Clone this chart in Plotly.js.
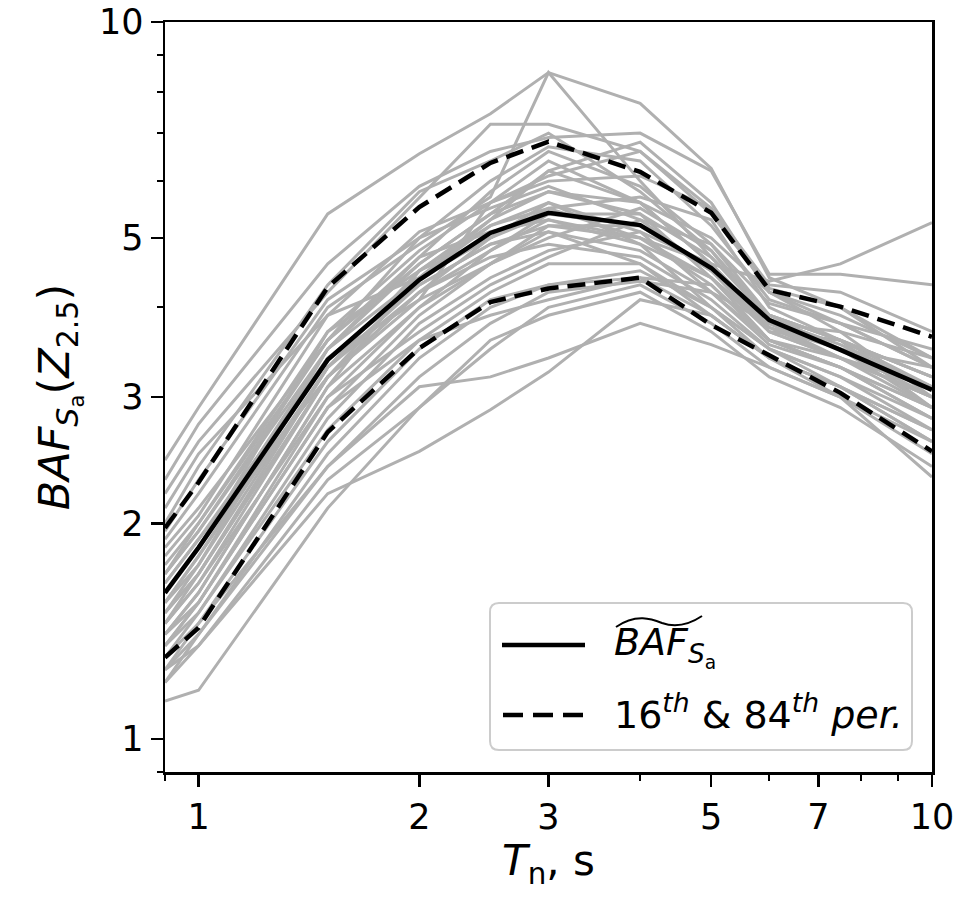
<!DOCTYPE html>
<html>
<head>
<meta charset="utf-8">
<script src="https://cdn.plot.ly/plotly-3.0.1.min.js"></script>
<style>html,body{margin:0;padding:0;background:#fff;}#chart{width:961px;height:898px;}</style>
</head>
<body>
<div id="chart"></div>
<script>
// Periods (s)
const periods = [0.9, 1, 1.5, 2, 2.5, 3, 4, 5, 6, 7.5, 10];

// Median and percentiles
const medianBAF = [1.60, 1.85, 3.38, 4.37, 5.08, 5.42, 5.21, 4.54, 3.84, 3.49, 3.07];
const p84BAF    = [1.97, 2.28, 4.27, 5.52, 6.36, 6.81, 6.18, 5.42, 4.23, 4.01, 3.64];
const p16BAF    = [1.30, 1.43, 2.68, 3.51, 4.07, 4.25, 4.40, 3.78, 3.43, 3.04, 2.52];

// Individual records (gray)
const rec01 = [2.45, 2.90, 5.40, 6.55, 7.45, 8.50, 7.70, 6.25, 4.40, 4.00, 3.40];
const rec02 = [1.90, 2.20, 4.00, 4.90, 5.70, 8.50, 6.00, 4.70, 3.90, 3.50, 2.90];
const rec03 = [2.20, 2.60, 4.20, 5.70, 7.20, 7.20, 6.60, 5.40, 4.25, 4.00, 3.30];
const rec04 = [2.30, 2.75, 4.60, 5.90, 6.60, 6.90, 7.00, 6.20, 4.45, 4.45, 4.30];
const rec05 = [2.00, 2.40, 4.30, 5.80, 6.40, 7.00, 5.80, 4.80, 3.90, 3.60, 3.10];
const rec06 = [1.75, 2.00, 3.60, 5.00, 6.00, 6.70, 6.40, 5.20, 4.10, 3.80, 3.30];
const rec07 = [1.70, 1.95, 3.50, 4.60, 5.40, 6.20, 5.60, 4.60, 4.35, 4.60, 5.25];
const rec08 = [1.95, 2.30, 4.10, 5.00, 5.50, 5.90, 5.30, 4.50, 3.70, 3.60, 3.20];
const rec09 = [1.60, 1.85, 3.70, 4.80, 5.60, 6.00, 6.10, 5.50, 4.20, 3.70, 3.00];
const rec10 = [1.55, 1.75, 3.30, 4.50, 5.30, 5.80, 5.40, 4.40, 3.60, 3.30, 2.80];
const rec11 = [1.80, 2.05, 3.90, 4.40, 5.00, 5.60, 5.10, 4.20, 3.80, 3.70, 3.40];
const rec12 = [1.50, 1.70, 3.20, 4.20, 5.00, 5.50, 5.70, 5.30, 4.00, 3.60, 2.90];
const rec13 = [1.45, 1.65, 3.00, 4.00, 4.80, 5.30, 5.00, 4.40, 3.70, 3.40, 3.00];
const rec14 = [1.65, 1.90, 3.40, 4.30, 4.90, 5.20, 5.20, 4.50, 3.90, 3.60, 3.20];
const rec15 = [1.40, 1.60, 3.10, 4.50, 5.20, 5.60, 4.90, 4.00, 3.50, 3.20, 2.70];
const rec16 = [1.55, 1.80, 3.40, 4.10, 4.60, 5.00, 5.50, 4.80, 3.80, 3.50, 3.10];
const rec17 = [1.35, 1.55, 2.90, 3.90, 4.60, 5.10, 4.80, 4.20, 3.60, 3.30, 2.80];
const rec18 = [1.60, 1.85, 3.50, 4.40, 5.20, 5.50, 5.00, 4.30, 3.60, 3.30, 2.90];
const rec19 = [1.45, 1.65, 3.20, 4.20, 4.70, 4.90, 4.70, 4.10, 3.50, 3.10, 2.60];
const rec20 = [1.70, 1.95, 3.60, 4.70, 5.10, 5.30, 4.90, 4.40, 3.75, 3.50, 3.30];
const rec21 = [1.30, 1.50, 2.80, 3.80, 4.40, 4.80, 5.10, 4.60, 3.70, 3.40, 3.00];
const rec22 = [1.50, 1.70, 3.30, 4.30, 4.90, 5.10, 4.60, 3.90, 3.40, 3.10, 2.70];
const rec23 = [1.40, 1.55, 3.00, 3.70, 4.30, 4.70, 5.30, 4.90, 3.90, 3.60, 3.20];
const rec24 = [1.35, 1.50, 2.70, 3.60, 4.20, 4.60, 4.60, 4.00, 3.50, 3.20, 2.80];
const rec25 = [1.25, 1.45, 2.60, 3.50, 4.10, 4.30, 4.50, 4.00, 3.40, 3.10, 2.60];
const rec26 = [1.20, 1.40, 2.50, 3.40, 4.00, 4.30, 4.40, 3.90, 3.40, 3.00, 2.50];
const rec27 = [1.30, 1.45, 2.40, 3.20, 3.80, 4.20, 4.35, 4.20, 3.55, 3.30, 2.90];
const rec28 = [1.25, 1.35, 2.30, 2.90, 3.50, 4.00, 4.30, 3.80, 3.30, 3.00, 2.32];
const rec29 = [1.13, 1.17, 2.10, 2.90, 3.60, 3.90, 4.20, 3.70, 3.20, 2.90, 2.40];
const rec30 = [1.20, 1.35, 2.20, 2.52, 2.88, 3.25, 4.10, 3.90, 3.40, 3.10, 2.70];
const rec31 = [1.25, 1.40, 2.40, 3.10, 3.20, 3.40, 3.80, 3.55, 3.30, 3.00, 2.60];
const rec32 = [1.85, 2.10, 3.60, 4.60, 5.40, 5.80, 5.60, 5.00, 4.20, 3.90, 3.40];
const rec33 = [1.65, 1.90, 3.20, 4.10, 5.60, 6.40, 5.60, 4.60, 3.80, 3.50, 3.00];
const rec34 = [1.50, 1.75, 3.50, 4.70, 5.80, 6.60, 5.90, 4.90, 4.05, 3.80, 3.50];
const rec35 = [2.10, 2.50, 3.90, 5.10, 5.60, 6.10, 6.60, 5.50, 4.30, 4.20, 3.70];
const rec36 = [1.40, 1.60, 3.10, 4.00, 4.60, 5.20, 5.00, 4.60, 3.75, 3.40, 3.00];
const rec37 = [1.55, 1.80, 3.30, 4.20, 4.80, 5.40, 5.40, 4.70, 3.85, 3.55, 3.10];
const rec38 = [1.35, 1.55, 2.90, 3.60, 3.90, 4.10, 4.40, 4.30, 3.60, 3.40, 3.10];
const rec39 = [1.45, 1.70, 3.20, 4.40, 5.30, 6.20, 6.80, 5.60, 4.20, 3.80, 3.30];
const rec40 = [1.70, 2.00, 3.70, 4.50, 5.00, 5.40, 5.20, 4.50, 3.80, 3.40, 2.90];

const records = [rec01, rec02, rec03, rec04, rec05, rec06, rec07, rec08, rec09, rec10,
                 rec11, rec12, rec13, rec14, rec15, rec16, rec17, rec18, rec19, rec20,
                 rec21, rec22, rec23, rec24, rec25, rec26, rec27, rec28, rec29, rec30,
                 rec31, rec32, rec33, rec34, rec35, rec36, rec37, rec38, rec39, rec40];

// Tick labels
const xTickVals = [1, 2, 3, 5, 7, 10];
const xTickText = ['1', '2', '3', '5', '7', '10'];
const xMinorVals = [0.9, 4, 6, 8, 9];
const yTickVals = [1, 2, 3, 5, 10];
const yTickText = ['1', '2', '3', '5', '10'];
const yMinorVals = [0.9, 4, 6, 7, 8, 9];

const legendLabelMedian = '<i>BAF</i><sub><i>S</i><sub>a</sub></sub>';
const legendLabelPct = '16<sup><i>th</i></sup> &amp; 84<sup><i>th</i></sup> <i>per.</i>';

const FONT = 'DejaVu Sans, sans-serif';
const GRAY = '#b0b0b0';

const traces = [];
records.forEach(r => {
  traces.push({x: periods, y: r, type: 'scatter', mode: 'lines',
    line: {color: GRAY, width: 3}, showlegend: false, hoverinfo: 'skip'});
});
traces.push({x: periods, y: medianBAF, type: 'scatter', mode: 'lines',
  line: {color: '#000', width: 4.5}, showlegend: false});
traces.push({x: periods, y: p16BAF, type: 'scatter', mode: 'lines',
  line: {color: '#000', width: 4.5, dash: '18px,9px'}, showlegend: false});
traces.push({x: periods, y: p84BAF, type: 'scatter', mode: 'lines',
  line: {color: '#000', width: 4.5, dash: '18px,9px'}, showlegend: false});

// plot area in pixels
const L = 165, R = 932, T = 22, B = 772;
const px = p => (p - L) / (R - L);
const py = p => (B - p) / (B - T);

function roundRect(x0, y0, x1, y1, r) {
  const rx = r / (R - L), ry = r / (B - T);
  const a = px(x0), b = px(x1), top = py(y0), bot = py(y1);
  return `M ${a+rx},${top} L ${b-rx},${top} Q ${b},${top} ${b},${top-ry} L ${b},${bot+ry} Q ${b},${bot} ${b-rx},${bot} L ${a+rx},${bot} Q ${a},${bot} ${a},${bot+ry} L ${a},${top-ry} Q ${a},${top} ${a+rx},${top} Z`;
}

const tilde = `M ${px(616)},${py(627)} C ${px(636)},${py(613)} ${px(652)},${py(619)} ${px(662)},${py(623)} C ${px(676)},${py(628)} ${px(690)},${py(624)} ${px(702)},${py(616)}`;

const layout = {
  width: 961, height: 898,
  margin: {l: L, r: 961 - R, t: T, b: 898 - B},
  paper_bgcolor: '#fff', plot_bgcolor: '#fff',
  font: {family: FONT, color: '#000', size: 34},
  showlegend: false,
  xaxis: {
    type: 'log', range: [Math.log10(0.9), 1],
    showgrid: false, zeroline: false,
    showline: true, mirror: true, linecolor: '#000', linewidth: 2.5,
    tickmode: 'array', tickvals: xTickVals, ticktext: xTickText,
    ticks: 'outside', ticklen: 12, tickwidth: 2.5, tickcolor: '#000',
    tickfont: {family: FONT, size: 35, color: '#000'},
    minor: {tickmode: 'array', tickvals: xMinorVals, ticks: 'outside', ticklen: 6, tickwidth: 2, tickcolor: '#000', showgrid: false},
    title: {text: '<i>T</i><sub>n</sub>, s', font: {family: FONT, size: 42, color: '#000'}, standoff: 10}
  },
  yaxis: {
    type: 'log', range: [Math.log10(0.9), 1],
    showgrid: false, zeroline: false,
    showline: true, mirror: true, linecolor: '#000', linewidth: 2.5,
    tickmode: 'array', tickvals: yTickVals, ticktext: yTickText,
    ticks: 'outside', ticklen: 12, tickwidth: 2.5, tickcolor: '#000',
    tickfont: {family: FONT, size: 35, color: '#000'},
    minor: {tickmode: 'array', tickvals: yMinorVals, ticks: 'outside', ticklen: 6, tickwidth: 2, tickcolor: '#000', showgrid: false},
    title: {text: '<i>BAF</i><sub><i>S</i><sub>a</sub></sub>(<i>Z</i><sub>2.5</sub>)', font: {family: FONT, size: 43, color: '#000'}, standoff: 16}
  },
  shapes: [
    {type: 'path', xref: 'paper', yref: 'paper', path: roundRect(490, 603, 912, 750, 9),
     fillcolor: 'rgba(255,255,255,0.85)', line: {color: '#cccccc', width: 2}},
    {type: 'line', xref: 'paper', yref: 'paper', x0: px(502), x1: px(585), y0: py(645), y1: py(645),
     line: {color: '#000', width: 4.5}},
    {type: 'line', xref: 'paper', yref: 'paper', x0: px(503), x1: px(586), y0: py(715), y1: py(715),
     line: {color: '#000', width: 4.5, dash: '20px,10px'}},
    {type: 'path', xref: 'paper', yref: 'paper', path: tilde, line: {color: '#000', width: 2}}
  ],
  annotations: [
    {xref: 'paper', yref: 'paper', x: px(612), y: py(646), xanchor: 'left', yanchor: 'middle',
     text: legendLabelMedian, showarrow: false, font: {family: FONT, size: 38, color: '#000'}},
    {xref: 'paper', yref: 'paper', x: px(612), y: py(712), xanchor: 'left', yanchor: 'middle',
     text: legendLabelPct, showarrow: false, font: {family: FONT, size: 38, color: '#000'}}
  ]
};

Plotly.newPlot('chart', traces, layout, {staticPlot: true, displayModeBar: false});
</script>
</body>
</html>
